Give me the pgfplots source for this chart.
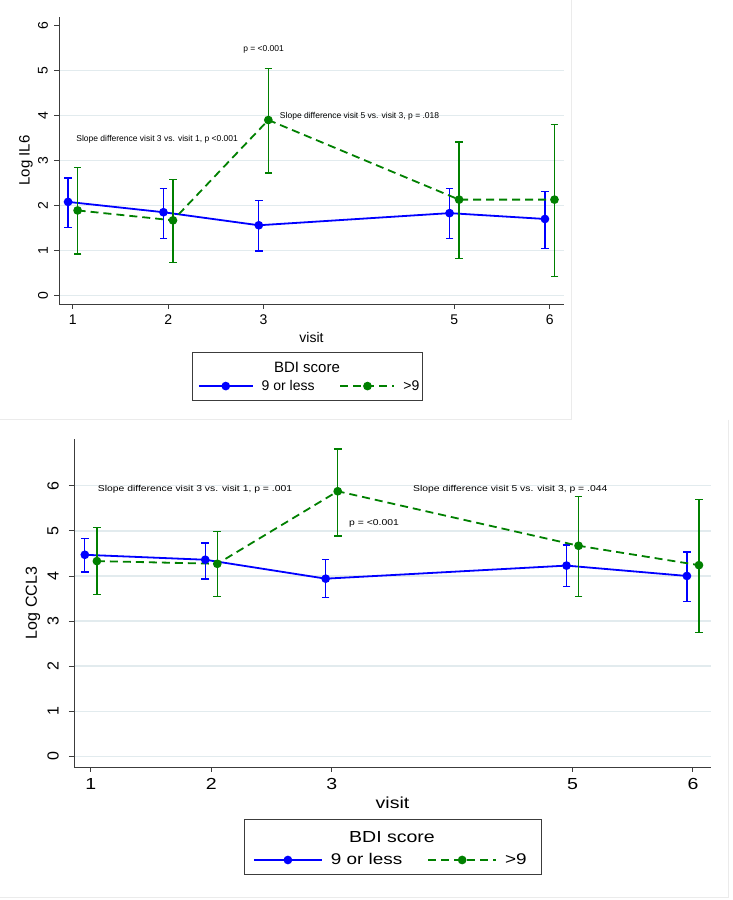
\documentclass[border=0pt]{standalone}
\usepackage{pgfplots}
\pgfplotsset{compat=1.18}
\usepackage{fontspec}
\setmainfont{Liberation Sans}
\newfontfamily\widefont[FakeStretch=1.22]{Liberation Sans}
\definecolor{sgreen}{RGB}{0,128,0}
\definecolor{sblue}{RGB}{0,0,255}
\definecolor{gridc}{RGB}{226,235,238}
\definecolor{axc}{RGB}{60,60,60}
\newcommand{\fs}[1]{\fontsize{#1}{#1}\selectfont}

\pgfplotsset{
  statastyle/.style={
    scale only axis,
    axis x line*=bottom, axis y line*=left,
    axis line style={axc, line width=0.9pt},
    tick style={axc, line width=0.9pt},
    tick align=outside,
    major tick length=5pt,
    xtick={1,2,3,5,6},
    ytick={0,...,5},
    extra y ticks={6},
    extra y tick style={grid=none},
    ymajorgrids,
    grid style={gridc, line width=1.2pt},
    /pgf/number format/assume math mode=true,
    clip=false,
    legend columns=2,
    legend cell align=left,
    legend style={draw=none, fill=none, anchor=west, inner sep=0pt, outer sep=0pt,
      column sep=0pt, nodes={inner sep=0pt},
      /tikz/every odd column/.append style={column sep=8pt},
      /tikz/every even column/.append style={column sep=25pt}},
  },
  blueline/.style={sblue, line width=1.8pt, mark=*, mark size=3.4pt, mark options={solid},
    error bars/.cd, y dir=both, y explicit,
    error bar style={line width=1.3pt, solid},
    error mark options={rotate=90, line width=1.3pt, mark size=3.8pt, solid}},
  greenline/.style={sgreen, line width=1.8pt, dash pattern=on 8pt off 5pt, mark=*, mark size=3.4pt, mark options={solid},
    error bars/.cd, y dir=both, y explicit,
    error bar style={line width=1.3pt, solid},
    error mark options={rotate=90, line width=1.3pt, mark size=3.8pt, solid}},
}

\begin{document}
\begin{tikzpicture}
\path[use as bounding box] (0pt,0pt) rectangle (732pt,900pt);
\fill[white] (0pt,0pt) rectangle (732pt,900pt);
% faint panel borders
\draw[black!8, line width=0.8pt] (571pt,900pt) -- (571pt,481pt) -- (0pt,481pt);
\draw[black!8, line width=0.8pt] (728.5pt,480pt) -- (728.5pt,3pt) -- (0pt,3pt);

% ---------------- top panel ----------------
\begin{axis}[statastyle,
  at={(59pt,596pt)}, anchor=south west,
  width=505pt, height=287pt,
  xmin=0.855, xmax=6.15, ymin=-0.19, ymax=6.19,
  ticklabel style={font=\fs{14}},
  xticklabel style={anchor=center, yshift=-11pt},
  yticklabel style={rotate=90, anchor=center, yshift=11pt},
  xlabel={visit}, ylabel={Log IL6},
  xlabel style={font=\fs{14}, at={(axis description cs:0.5,-0.115)}, anchor=center},
  ylabel style={font=\fs{15}, at={(axis description cs:-0.0653,0.5)}, anchor=center},
  legend style={at={(axis description cs:0.275,-0.286)}, font=\fs{14}},
  legend image code/.code={\draw[mark repeat=2,mark phase=2] plot coordinates {(0pt,0pt) (27pt,0pt) (54pt,0pt)};},
]
\addplot[blueline] coordinates {
  (0.95,2.08) += (0,0.53) -= (0,0.57)
  (1.95,1.85) += (0,0.53) -= (0,0.58)
  (2.95,1.56) += (0,0.55) -= (0,0.57)
  (4.95,1.83) += (0,0.55) -= (0,0.57)
  (5.95,1.70) += (0,0.61) -= (0,0.65)
};
\addlegendentry{9 or less}
\addplot[greenline] coordinates {
  (1.05,1.89) += (0,0.96) -= (0,0.97)
  (2.05,1.67) += (0,0.90) -= (0,0.94)
  (3.05,3.90) += (0,1.15) -= (0,1.18)
  (5.05,2.13) += (0,1.28) -= (0,1.31)
  (6.05,2.13) += (0,1.67) -= (0,1.71)
};
\addlegendentry{>9}
\node[anchor=center, font=\fs{8.5}] at (axis cs:3.0,5.48) {p = <0.001};
\node[anchor=west, font=\fs{8.5}, inner sep=0pt] at (axis cs:3.17,3.98) {Slope difference visit 5 vs. visit 3, p = .018};
\node[anchor=west, font=\fs{8.5}, inner sep=0pt] at (axis cs:1.035,3.47) {Slope difference visit 3 vs. visit 1, p <0.001};
\end{axis}
\draw[axc, line width=0.9pt] (192pt,500pt) rectangle (422pt,548pt);
\node[font=\fs{15}] at (307pt,533pt) {BDI score};

% ---------------- bottom panel ----------------
\begin{axis}[statastyle,
  at={(74pt,133pt)}, anchor=south west,
  width=637pt, height=328pt,
  xmin=0.86, xmax=6.15, ymin=-0.24, ymax=7.04,
  ytick={0,...,6}, extra y ticks={},
  xticklabel style={font=\widefont\fs{16}, anchor=center, yshift=-12pt},
  yticklabel style={font=\fs{16}, rotate=90, anchor=center, yshift=16pt},
  xlabel={visit}, ylabel={Log CCL3},
  xlabel style={font=\widefont\fs{16}, at={(axis description cs:0.5,-0.11)}, anchor=center},
  ylabel style={font=\fs{16}, at={(axis description cs:-0.0644,0.5)}, anchor=center},
  legend style={at={(axis description cs:0.281,-0.2835)}, font=\widefont\fs{15.5}},
  legend image code/.code={\draw[mark repeat=2,mark phase=2] plot coordinates {(0pt,0pt) (34pt,0pt) (68pt,0pt)};},
]
\addplot[blueline] coordinates {
  (0.95,4.47) += (0,0.36) -= (0,0.38)
  (1.95,4.36) += (0,0.37) -= (0,0.43)
  (2.95,3.94) += (0,0.42) -= (0,0.42)
  (4.95,4.23) += (0,0.46) -= (0,0.47)
  (5.95,4.00) += (0,0.53) -= (0,0.56)
};
\addlegendentry{9 or less}
\addplot[greenline] coordinates {
  (1.05,4.33) += (0,0.74) -= (0,0.74)
  (2.05,4.27) += (0,0.71) -= (0,0.73)
  (3.05,5.88) += (0,0.94) -= (0,0.99)
  (5.05,4.67) += (0,1.09) -= (0,1.13)
  (6.05,4.24) += (0,1.45) -= (0,1.50)
};
\addlegendentry{>9}
\node[anchor=west, font=\widefont\fs{8.5}, inner sep=0pt] at (axis cs:1.057,5.92) {Slope difference visit 3 vs. visit 1, p = .001};
\node[anchor=west, font=\widefont\fs{8.5}, inner sep=0pt] at (axis cs:3.675,5.92) {Slope difference visit 5 vs. visit 3, p = .044};
\node[anchor=west, font=\widefont\fs{8.5}, inner sep=0pt] at (axis cs:3.144,5.17) {p = <0.001};
\end{axis}
\draw[axc, line width=0.9pt] (244pt,26pt) rectangle (541pt,81pt);
\node[font=\widefont\fs{16}] at (392pt,63pt) {BDI score};
\end{tikzpicture}
\end{document}
